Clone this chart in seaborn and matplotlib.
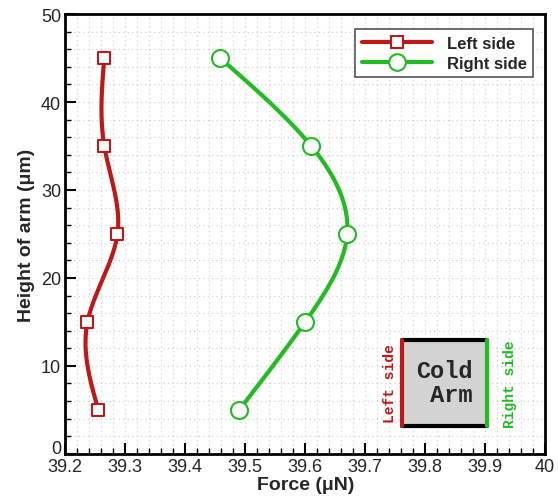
import numpy as np
import pandas as pd
import seaborn as sns
import matplotlib
matplotlib.use("Agg")
import matplotlib.pyplot as plt
from matplotlib.lines import Line2D
from matplotlib.ticker import MultipleLocator, FixedLocator, FormatStrFormatter
from matplotlib.patches import Rectangle
from matplotlib.transforms import ScaledTranslation

heights = [5, 15, 25, 35, 45]
left_force = [39.255, 39.237, 39.287, 39.265, 39.265]
right_force = [39.49, 39.60, 39.67, 39.61, 39.458]
series_names = ["Left side", "Right side"]
x_ticks = [39.2, 39.3, 39.4, 39.5, 39.6, 39.7, 39.8, 39.9, 40.0]

sns.set_theme(style="white")
plt.rcParams['font.family'] = ['Liberation Sans', 'DejaVu Sans']

RED = "#C01818"
GREEN = "#22BB22"

fig, ax = plt.subplots(figsize=(5.58, 5.02), dpi=100)
fig.subplots_adjust(left=0.117, right=0.977, top=0.970, bottom=0.094)


def spline(y, x, n=200):
    # natural cubic spline x(y) used only for drawing the smooth curve
    y = np.asarray(y, float); x = np.asarray(x, float)
    k = len(y)
    h = np.diff(y)
    A = np.zeros((k, k)); b = np.zeros(k)
    A[0, 0] = A[-1, -1] = 1
    for i in range(1, k - 1):
        A[i, i - 1] = h[i - 1]; A[i, i] = 2 * (h[i - 1] + h[i]); A[i, i + 1] = h[i]
        b[i] = 3 * ((x[i + 1] - x[i]) / h[i] - (x[i] - x[i - 1]) / h[i - 1])
    c = np.linalg.solve(A, b)
    yy = np.linspace(y[0], y[-1], n)
    xx = np.empty_like(yy)
    for j, t in enumerate(yy):
        i = min(np.searchsorted(y, t, side='right') - 1, k - 2)
        d = t - y[i]
        bb = (x[i + 1] - x[i]) / h[i] - h[i] * (2 * c[i] + c[i + 1]) / 3
        dd = (c[i + 1] - c[i]) / (3 * h[i])
        xx[j] = x[i] + bb * d + c[i] * d ** 2 + dd * d ** 3
    return xx, yy

for xs, col in [(left_force, RED), (right_force, GREEN)]:
    cx, cy = spline(heights, xs)
    ax.plot(cx, cy, color=col, lw=3, zorder=3, solid_capstyle='round')

df = pd.DataFrame({"force": left_force + right_force,
                   "height": heights * 2,
                   "side": [series_names[0]] * 5 + [series_names[1]] * 5})
sns.scatterplot(data=df[df.side == "Left side"], x="force", y="height", ax=ax,
                marker="s", s=75, facecolor="white", edgecolor=RED, linewidth=1.5,
                zorder=4, legend=False)
sns.scatterplot(data=df[df.side == "Right side"], x="force", y="height", ax=ax,
                marker="o", s=150, facecolor="white", edgecolor=GREEN, linewidth=1.5,
                zorder=4, legend=False)

ax.set_xlim(39.2, 40)
ax.set_ylim(0, 50)
ax.xaxis.set_major_locator(FixedLocator(x_ticks))
ax.xaxis.set_major_formatter(FormatStrFormatter('%g'))
ax.xaxis.set_minor_locator(FixedLocator(list(np.arange(39.2, 40.001, 0.02))))
ax.yaxis.set_major_locator(MultipleLocator(10))
ax.yaxis.set_minor_locator(MultipleLocator(2))
ax.tick_params(which='major', direction='in', length=8, width=1.5, labelsize=13,
               color='black', bottom=True, left=True, pad=3)
ax.tick_params(which='minor', direction='in', length=4, width=1, color='black',
               bottom=True, left=True)
ax.grid(which='both', color='#cccccc', linestyle=(0, (1, 3)), linewidth=0.8)
for s in ax.spines.values():
    s.set_color('black'); s.set_linewidth(2)

# lift the "0" y tick label slightly, as in the reference
fig.canvas.draw()
for lbl in ax.get_yticklabels():
    if lbl.get_text() == "0":
        lbl.set_transform(lbl.get_transform() + ScaledTranslation(0, 5 / 72, fig.dpi_scale_trans))

ax.set_xlabel("Force (\u03bcN)", fontsize=14, fontweight='bold', labelpad=1)
ax.set_ylabel("Height of arm (\u03bcm)", fontsize=14, fontweight='bold', labelpad=4)

handles = [Line2D([0], [0], color=RED, lw=3, marker='s', markersize=9,
                  markerfacecolor='white', markeredgecolor=RED, markeredgewidth=1.5),
           Line2D([0], [0], color=GREEN, lw=3, marker='o', markersize=12,
                  markerfacecolor='white', markeredgecolor=GREEN, markeredgewidth=1.5)]
leg = ax.legend(handles, series_names, loc='upper right', bbox_to_anchor=(0.993, 0.985),
                fancybox=False, framealpha=1, edgecolor='#555555', handlelength=4.2,
                prop={'weight': 'bold', 'size': 12}, borderpad=0.4, labelspacing=0.3,
                handletextpad=0.9)
leg.get_frame().set_linewidth(1.2)

# Cold arm inset diagram
x0, x1, y0, y1 = 39.762, 39.903, 3.2, 12.95
ax.add_patch(Rectangle((x0, y0), x1 - x0, y1 - y0, facecolor='#d3d3d3',
                       edgecolor='none', zorder=5))
ax.plot([x0, x1], [y1, y1], color='black', lw=3, zorder=6)
ax.plot([x0, x1], [y0, y0], color='black', lw=3, zorder=6)
ax.plot([x0, x0], [y0, y1], color=RED, lw=3, zorder=7)
ax.plot([x1, x1], [y0, y1], color=GREEN, lw=3, zorder=7)
mono = ['Liberation Mono', 'DejaVu Sans Mono']
ax.text((x0 + x1) / 2, (y0 + y1) / 2, "Cold\n Arm", ha='center', va='center',
        family=mono, fontweight='bold', fontsize=17, zorder=8, linespacing=1.05)
ax.text(x0 - 0.021, (y0 + y1) / 2, "Left side", rotation=90, ha='center', va='center',
        family=mono, fontweight='bold', fontsize=10.5, color=RED, zorder=8)
ax.text(x1 + 0.038, (y0 + y1) / 2, "Right side", rotation=90, ha='center', va='center',
        family=mono, fontweight='bold', fontsize=10.5, color=GREEN, zorder=8)

fig.savefig("out.png", dpi=100)
